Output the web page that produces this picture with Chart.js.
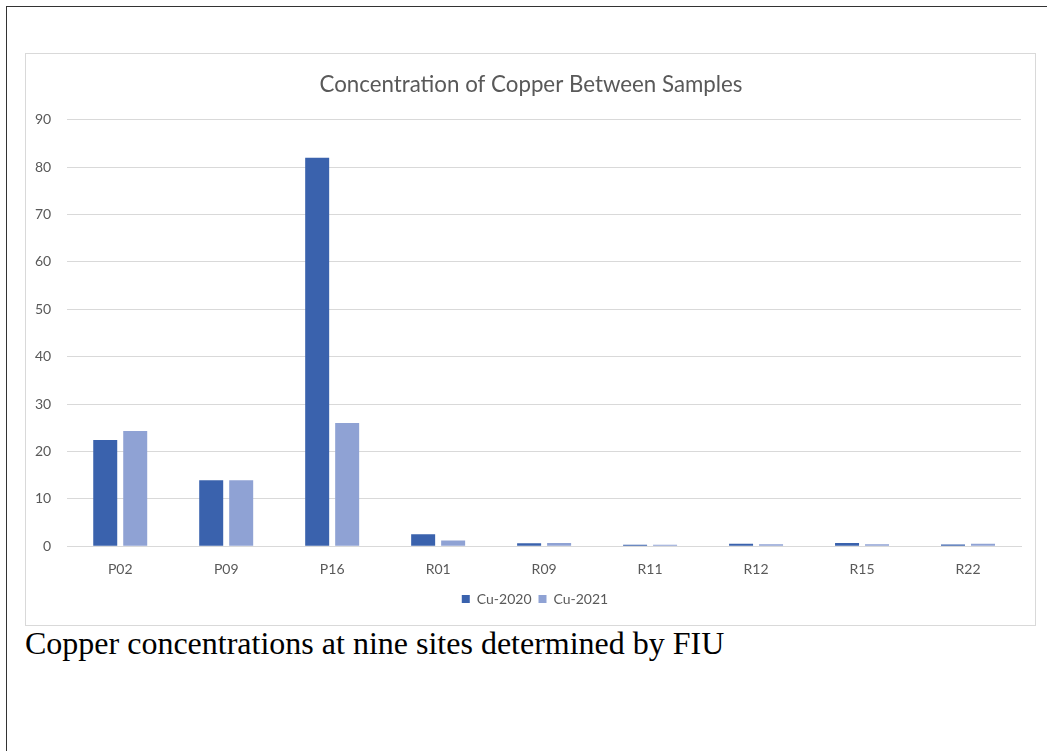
<!DOCTYPE html>
<html>
<head>
<meta charset="utf-8">
<script src="https://cdn.jsdelivr.net/npm/chart.js@4.4.1/dist/chart.umd.min.js"></script>
<style>
  html, body { margin: 0; padding: 0; background: #fff; overflow: hidden; }
  body { width: 1047px; height: 751px; position: relative; }
  .frame { position: absolute; left: 6px; top: 6px; width: 1060px; height: 800px; border: 1px solid #333; box-sizing: border-box; }
  .panel { position: absolute; left: 25px; top: 53px; width: 1011px; height: 573px; border: 1px solid #d9d9d9; box-sizing: border-box; background: #fff; }
  .caption { position: absolute; left: 25px; top: 625px; font-family: 'Liberation Serif', 'Times New Roman', serif; font-size: 32px; color: #000; white-space: nowrap; }
</style>
</head>
<body>
<div class="frame"></div>
<div class="panel"><canvas id="cu"></canvas></div>
<div class="caption">Copper concentrations at nine sites determined by FIU</div>
<script>
const sites = ['P02', 'P09', 'P16', 'R01', 'R09', 'R11', 'R12', 'R15', 'R22'];
const cu2020 = [22.4, 13.9, 82.0, 2.5, 0.6, 0.3, 0.5, 0.7, 0.35];
const cu2021 = [24.3, 13.9, 26.0, 1.2, 0.65, 0.3, 0.4, 0.4, 0.5];
const yTicks = [0, 10, 20, 30, 40, 50, 60, 70, 80, 90];

const font = "Lato, 'Open Sans', sans-serif";
const grey = '#595959';

// the title and legend sit a little right of the canvas middle in the original
const nudge = {
  id: 'nudge',
  afterLayout(chart) {
    chart.titleBlock.left += 11; chart.titleBlock.right += 11;
    chart.legend.left += 15; chart.legend.right += 15;
  }
};

new Chart(document.getElementById('cu'), {
  type: 'bar',
  data: {
    labels: sites,
    datasets: [
      { label: 'Cu-2020', data: cu2020, backgroundColor: '#3a62ad' },
      { label: 'Cu-2021', data: cu2021, backgroundColor: '#8fa2d4' }
    ]
  },
  plugins: [nudge],
  options: {
    responsive: true, maintainAspectRatio: false,
    animation: false,
    devicePixelRatio: 1,
    layout: { padding: { left: -7, right: 14, top: 7, bottom: 9 } },
    datasets: { bar: { categoryPercentage: 0.566, barPercentage: 0.8 } },
    plugins: {
      title: { display: true, text: 'Concentration of Copper Between Samples', color: grey, font: { family: font, size: 22.3, weight: 'normal' }, padding: { top: 10, bottom: 22 } },
      legend: { position: 'bottom', labels: { boxWidth: 8, boxHeight: 8, color: grey, font: { family: font, size: 14 }, padding: 7 } },
      tooltip: { enabled: false }
    },
    scales: {
      x: {
        grid: { display: false },
        border: { color: '#d9d9d9' },
        ticks: { color: grey, font: { family: font, size: 14 }, padding: 7 }
      },
      y: {
        min: 0, max: 90,
        afterBuildTicks: s => { s.ticks = yTicks.map(v => ({ value: v })); },
        grid: { color: '#d9d9d9', drawTicks: false },
        border: { display: false },
        ticks: { color: grey, font: { family: font, size: 14 }, padding: 16 }
      }
    }
  }
});
</script>
</body>
</html>
